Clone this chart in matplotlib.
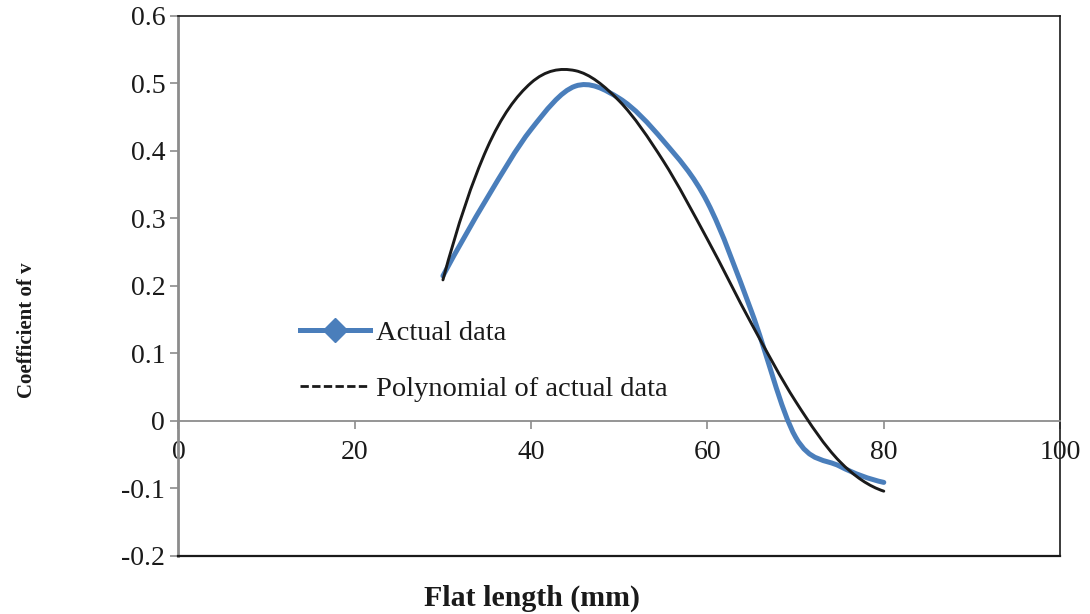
import numpy as np
import matplotlib.pyplot as plt
from matplotlib.path import Path
from matplotlib.patches import PathPatch
from matplotlib.lines import Line2D

# Values
flat_length = [30, 35, 40, 45, 50, 55, 60, 65, 70, 75, 80]
actual_data = [0.215, 0.330, 0.432, 0.496, 0.478, 0.415, 0.324, 0.162, -0.024, -0.067, -0.091]
poly_fit = [0.209, 0.404, 0.501, 0.519, 0.474, 0.385, 0.269, 0.144, 0.029, -0.060, -0.104]

x_ticks = [0, 20, 40, 60, 80, 100]
y_ticks = [-0.2, -0.1, 0, 0.1, 0.2, 0.3, 0.4, 0.5, 0.6]
y_tick_labels = ["-0.2", "-0.1", "0", "0.1", "0.2", "0.3", "0.4", "0.5", "0.6"]

blue = "#4a7ebb"
dark = "#1a1a1a"
grey = "#8c8c8c"

plt.rcParams["font.family"] = ["Liberation Serif", "DejaVu Serif"]


# Excel style "smoothed line": cubic bezier segments through the points
def smooth_path(xs, ys):
    pts = np.column_stack([xs, ys]).astype(float)
    n = len(pts)
    # extend both ends so the end tangents follow the curve
    first = 3 * pts[0] - 3 * pts[1] + pts[2]
    last = 3 * pts[-1] - 3 * pts[-2] + pts[-3]
    ext = np.vstack([first, pts, last])
    verts = [pts[0]]
    codes = [Path.MOVETO]
    for i in range(1, n):
        p0, p1, p2, p3 = ext[i - 1], ext[i], ext[i + 1], ext[i + 2]
        verts += [p1 + (p2 - p0) / 6, p2 - (p3 - p1) / 6, p2]
        codes += [Path.CURVE4] * 3
    return Path(verts, codes)


fig = plt.figure(figsize=(10.9, 6.14), dpi=100)
ax = fig.add_axes([0.1637, 0.0945, 0.8089, 0.8795])

ax.add_patch(PathPatch(smooth_path(flat_length, actual_data), fill=False,
                       edgecolor=blue, lw=3.6, capstyle="round", joinstyle="round", zorder=3))
ax.add_patch(PathPatch(smooth_path(flat_length, poly_fit), fill=False,
                       edgecolor=dark, lw=2.1, capstyle="round", joinstyle="round", zorder=4))

ax.set_xlim(0, 100)
ax.set_ylim(-0.2, 0.6)

# frame: grey left axis, grey zero line, black top/right/bottom
ax.spines["left"].set_color(grey)
ax.spines["left"].set_linewidth(2.0)
ax.spines["bottom"].set_position(("data", 0))
ax.spines["bottom"].set_color(grey)
ax.spines["bottom"].set_linewidth(1.3)
for s in ["top", "right"]:
    ax.spines[s].set_color(dark)
    ax.spines[s].set_linewidth(1.2)
ax.axhline(-0.2, color=dark, lw=1.6, clip_on=False, zorder=5)

ax.set_xticks(x_ticks)
ax.set_yticks(y_ticks)
ax.set_yticklabels(y_tick_labels)
ax.tick_params(axis="both", direction="out", length=5.5, width=1.2, color=grey,
               labelsize=20, labelcolor=dark)
ax.tick_params(axis="x", pad=8)
ax.tick_params(axis="y", pad=4)

ax.set_xlabel("Flat length (mm)", fontsize=21.5, fontweight="bold", color=dark)
ax.xaxis.set_label_coords(0.401, -0.078)
ax.xaxis.label.set_va("center")
ax.set_ylabel("Coefficient of v", fontsize=15, fontweight="bold", color=dark)
ax.yaxis.set_label_coords(-0.172, 0.418)
ax.yaxis.label.set_va("center")

handles = [
    Line2D([], [], color=blue, lw=3.6, marker="D", ms=12),
    Line2D([], [], color=dark, lw=2.0, ls=(0, (3, 1.2))),
]
ax.legend(handles, ["Actual data", "Polynomial of actual data"], loc="upper left",
          bbox_to_anchor=(0.138, 0.437), frameon=False, fontsize=20.5,
          handlelength=2.45, handletextpad=0.22, labelspacing=1.05,
          borderpad=0, borderaxespad=0, labelcolor=dark)

fig.savefig("out.png", dpi=100)
